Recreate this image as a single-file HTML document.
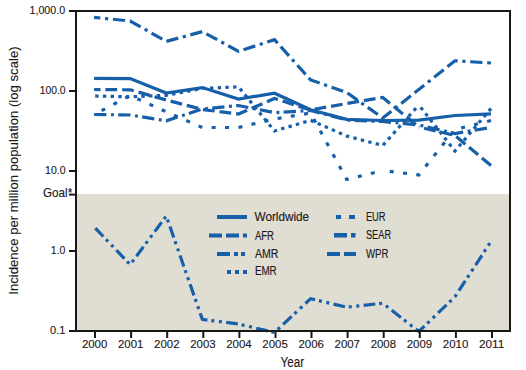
<!DOCTYPE html>
<html><head><meta charset="utf-8"><style>
html,body{margin:0;padding:0;background:#fff;}
svg{display:block;font-family:"Liberation Sans",sans-serif;} text{stroke:#1a1718;stroke-width:0.12px;}
</style></head><body>
<svg width="526" height="370" viewBox="0 0 526 370">
<rect x="0" y="0" width="526" height="370" fill="#fff"/>
<rect x="76" y="194" width="434" height="137" fill="#e0ddd3"/>

<g fill="#175fa9">
 <rect x="217" y="215" width="30" height="4"/>
 <rect x="209" y="233.5" width="13" height="4"/><rect x="226" y="233.5" width="13" height="4"/><rect x="243" y="233.5" width="4" height="4"/>
 <rect x="217" y="252" width="13" height="4"/><rect x="234" y="252" width="4" height="4"/><rect x="241" y="252" width="4" height="4"/>
 <rect x="227" y="270" width="4" height="4"/><rect x="235" y="270" width="4" height="4"/><rect x="243" y="270" width="4" height="4"/>
 <rect x="336" y="215" width="5" height="4"/><rect x="349" y="215" width="6" height="4"/>
 <rect x="334" y="233" width="13" height="4.5"/><rect x="351" y="233" width="4.5" height="4.5"/>
 <rect x="327" y="252" width="13" height="4"/><rect x="344" y="252" width="12" height="4"/>
</g>
<g fill="#1a1718"><text x="254.5" y="220.76" font-size="12" textLength="54.66" lengthAdjust="spacingAndGlyphs">Worldwide</text><text x="254.9" y="239.76" font-size="12" textLength="19.05" lengthAdjust="spacingAndGlyphs">AFR</text><text x="254.9" y="257.76" font-size="12" textLength="23.42" lengthAdjust="spacingAndGlyphs">AMR</text><text x="254.9" y="275.36" font-size="12" textLength="21.77" lengthAdjust="spacingAndGlyphs">EMR</text><text x="365.9" y="220.86" font-size="12" textLength="19.72" lengthAdjust="spacingAndGlyphs">EUR</text><text x="365.9" y="239.36" font-size="12" textLength="25.19" lengthAdjust="spacingAndGlyphs">SEAR</text><text x="365.9" y="257.66" font-size="12" textLength="22.48" lengthAdjust="spacingAndGlyphs">WPR</text></g>
<g><polyline points="94.10,78.3 130.18,78.6 166.26,93.1 202.35,87.6 238.43,99.1 274.51,93.2 310.59,109.7 346.67,119.3 382.75,120.5 418.84,120.2 454.92,115.5 491.00,113.8" fill="none" stroke="#175fa9" stroke-width="3.2" stroke-linejoin="miter"/><polyline points="94.10,17.4 130.18,21.0 166.26,41.4 202.35,31.6 238.43,51.3 274.51,39.7 310.59,79.9 346.67,92.5 382.75,118.0 418.84,89.5 454.92,60.8 491.00,63.0" fill="none" stroke="#175fa9" stroke-width="3.2" stroke-linejoin="miter" stroke-dasharray="12.3 4.7 12.3 4.7 3.2 4.7" stroke-dashoffset="23"/><polyline points="94.10,89.5 130.18,89.8 166.26,100.0 202.35,109.5 238.43,114.0 274.51,98.5 310.59,110.0 346.67,103.5 382.75,97.5 418.84,127.0" fill="none" stroke="#175fa9" stroke-width="3.2" stroke-linejoin="miter" stroke-dasharray="11.8 4.9" stroke-dashoffset="5.4"/><polyline points="418.84,127.0 454.92,135.5 491.00,165.5" fill="none" stroke="#175fa9" stroke-width="3.2" stroke-linejoin="miter" stroke-dasharray="11.8 4.9" stroke-dashoffset="11.31"/><polyline points="94.10,96.0 130.18,96.8 166.26,95.3 202.35,88.5 238.43,86.8 274.51,131.0 310.59,120.3 346.67,136.0 382.75,145.5 418.84,105.0" fill="none" stroke="#175fa9" stroke-width="3.2" stroke-linejoin="miter" stroke-dasharray="3.4 4.3" stroke-dashoffset="6.6"/><polyline points="418.84,105.0 454.92,151.0 491.00,108.5" fill="none" stroke="#175fa9" stroke-width="3.2" stroke-linejoin="miter" stroke-dasharray="3.4 4.3" stroke-dashoffset="4.69"/><polyline points="94.10,114.7 130.18,95.5 166.26,111.8 202.35,127.5 238.43,127.5 274.51,119.0 310.59,113.0 346.67,179.5 382.75,170.5" fill="none" stroke="#175fa9" stroke-width="3.2" stroke-linejoin="miter" stroke-dasharray="4 9.4" stroke-dashoffset="4.9"/><polyline points="382.75,170.5 418.84,175.0 454.92,129.5 491.00,120.5" fill="none" stroke="#175fa9" stroke-width="3.2" stroke-linejoin="miter" stroke-dasharray="4 9.4" stroke-dashoffset="6.38"/><polyline points="94.10,114.5 130.18,115.0 166.26,120.8 202.35,109.0 238.43,105.5 274.51,112.7 310.59,110.5 346.67,120.0 382.75,121.5 418.84,125.0" fill="none" stroke="#175fa9" stroke-width="3.2" stroke-linejoin="miter" stroke-dasharray="12.3 4.6 2.9 4.3" stroke-dashoffset="0"/><polyline points="418.84,125.0 454.92,133.5 491.00,127.5" fill="none" stroke="#175fa9" stroke-width="3.2" stroke-linejoin="miter" stroke-dasharray="12.3 4.6 2.9 4.3" stroke-dashoffset="15.15"/><polyline points="94.10,226.8 130.18,264.7 166.26,216.0 202.35,319.4 238.43,324.0 274.51,332.5 310.59,298.7 346.67,307.2 382.75,303.2 418.84,331.5 454.92,296.8 491.00,241.4" fill="none" stroke="#175fa9" stroke-width="3.2" stroke-linejoin="miter" stroke-dasharray="11.7 3.9 3 4.6 3 4.4" stroke-dashoffset="28.9"/></g>
<g stroke="#1a1718" stroke-width="2" fill="none">
 <polyline points="76,11 510,11 510,331 76,331 76,11" stroke-linejoin="miter"/>
 <line x1="69" y1="11" x2="76" y2="11"/><line x1="69" y1="91" x2="76" y2="91"/><line x1="69" y1="171" x2="76" y2="171"/><line x1="69" y1="251" x2="76" y2="251"/><line x1="69" y1="331" x2="76" y2="331"/><line x1="69" y1="194.6" x2="76" y2="194.6"/><line x1="95.0" y1="331" x2="95.0" y2="338"/><line x1="131.1" y1="331" x2="131.1" y2="338"/><line x1="167.2" y1="331" x2="167.2" y2="338"/><line x1="203.3" y1="331" x2="203.3" y2="338"/><line x1="239.4" y1="331" x2="239.4" y2="338"/><line x1="275.5" y1="331" x2="275.5" y2="338"/><line x1="311.5" y1="331" x2="311.5" y2="338"/><line x1="347.6" y1="331" x2="347.6" y2="338"/><line x1="383.7" y1="331" x2="383.7" y2="338"/><line x1="419.8" y1="331" x2="419.8" y2="338"/><line x1="455.9" y1="331" x2="455.9" y2="338"/><line x1="492.0" y1="331" x2="492.0" y2="338"/>
</g>
<g font-size="11.5" fill="#1a1718"><text x="29.5" y="13.79" font-size="11.5" textLength="35.57" lengthAdjust="spacingAndGlyphs">1,000.0</text><text x="39.8" y="94.09" font-size="11.5" textLength="25.73" lengthAdjust="spacingAndGlyphs">100.0</text><text x="45.1" y="174.4" font-size="11.5" textLength="20.39" lengthAdjust="spacingAndGlyphs">10.0</text><text x="50.8" y="254.09" font-size="11.5" textLength="14.61" lengthAdjust="spacingAndGlyphs">1.0</text><text x="50.1" y="334.1" font-size="11.5" textLength="15.32" lengthAdjust="spacingAndGlyphs">0.1</text><text x="43.0" y="197.05" font-size="12.4" textLength="29.23" lengthAdjust="spacingAndGlyphs">Goal*</text><text x="81.90" y="348.4" textLength="25.46" lengthAdjust="spacingAndGlyphs">2000</text><text x="117.99" y="348.4" textLength="25.46" lengthAdjust="spacingAndGlyphs">2001</text><text x="154.08" y="348.4" textLength="25.46" lengthAdjust="spacingAndGlyphs">2002</text><text x="190.17" y="348.4" textLength="25.46" lengthAdjust="spacingAndGlyphs">2003</text><text x="226.26" y="348.4" textLength="25.46" lengthAdjust="spacingAndGlyphs">2004</text><text x="262.35" y="348.4" textLength="25.46" lengthAdjust="spacingAndGlyphs">2005</text><text x="298.45" y="348.4" textLength="25.46" lengthAdjust="spacingAndGlyphs">2006</text><text x="334.54" y="348.4" textLength="25.46" lengthAdjust="spacingAndGlyphs">2007</text><text x="370.63" y="348.4" textLength="25.46" lengthAdjust="spacingAndGlyphs">2008</text><text x="406.72" y="348.4" textLength="25.46" lengthAdjust="spacingAndGlyphs">2009</text><text x="442.81" y="348.4" textLength="25.46" lengthAdjust="spacingAndGlyphs">2010</text><text x="478.90" y="348.4" textLength="25.46" lengthAdjust="spacingAndGlyphs">2011</text></g>
<g fill="#1a1718"><text x="280.6" y="366.67" font-size="13.8" textLength="23.53" lengthAdjust="spacingAndGlyphs">Year</text></g>
<text transform="translate(18.4,170.6) rotate(-90)" text-anchor="middle" font-size="13.15" fill="#1a1718">Incidence per million population (log scale)</text>
</svg>
</body></html>
